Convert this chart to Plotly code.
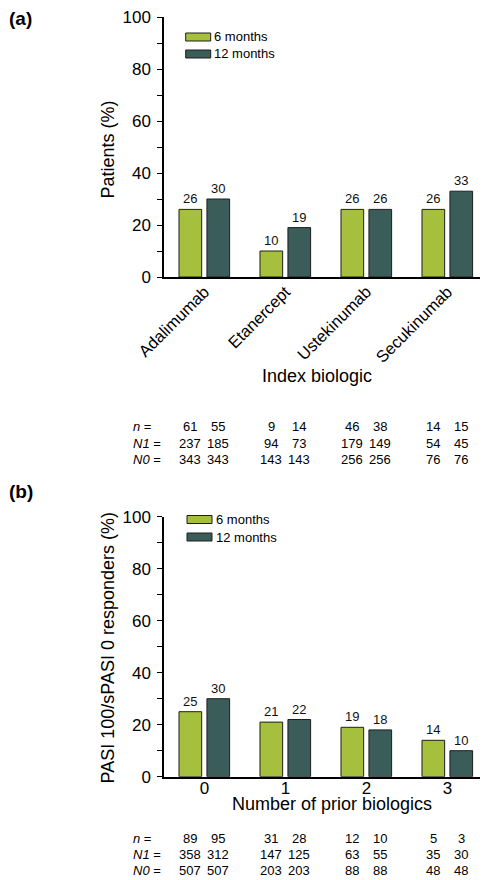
import plotly.graph_objects as go

# ---------------- data ----------------
biologics = ["Adalimumab", "Etanercept", "Ustekinumab", "Secukinumab"]
a_6m = [26, 10, 26, 26]
a_12m = [30, 19, 26, 33]
a_n_6m = [61, 9, 46, 14]
a_n_12m = [55, 14, 38, 15]
a_N1_6m = [237, 94, 179, 54]
a_N1_12m = [185, 73, 149, 45]
a_N0_6m = [343, 143, 256, 76]
a_N0_12m = [343, 143, 256, 76]

prior = ["0", "1", "2", "3"]
b_6m = [25, 21, 19, 14]
b_12m = [30, 22, 18, 10]
b_n_6m = [89, 31, 12, 5]
b_n_12m = [95, 28, 10, 3]
b_N1_6m = [358, 147, 63, 35]
b_N1_12m = [312, 125, 55, 30]
b_N0_6m = [507, 203, 88, 48]
b_N0_12m = [507, 203, 88, 48]

series_names = ["6 months", "12 months"]
y_tickvals = list(range(0, 101, 10))
y_ticktext = [str(v) if v % 20 == 0 else "" for v in y_tickvals]

# ---------------- style ----------------
# page body has an 8px margin; figure is sized to fill the rest of the window
OFF = 8
W, H = 488 - OFF, 880 - OFF
GREEN = "#a6bf3c"
DARK = "#3a5d5a"
EDGE = "#1e1e1e"
FONT = "Liberation Sans, Arial, sans-serif"


def px_x(x):
    return (x - OFF) / W


def px_y(y):
    return 1 - (y - OFF) / H


fig = go.Figure()

BAR_W = 0.28
OFF_G = -0.315
OFF_D = 0.03

for cats, v6, v12, xa, ya in [
    (biologics, a_6m, a_12m, "x", "y"),
    (prior, b_6m, b_12m, "x2", "y2"),
]:
    for vals, col, off, name in [(v6, GREEN, OFF_G, series_names[0]),
                                 (v12, DARK, OFF_D, series_names[1])]:
        fig.add_trace(go.Bar(
            x=cats, y=vals, name=name, xaxis=xa, yaxis=ya,
            width=BAR_W, offset=off,
            marker=dict(color=col, line=dict(color=EDGE, width=1)),
            text=[str(v) for v in vals], texttemplate="%{text}",
            textposition="outside",
            textfont=dict(size=13, color="#111", family=FONT),
            cliponaxis=False, showlegend=False, hoverinfo="x+y",
        ))

x_dom = [px_x(164), 1.0]
axis_common = dict(showline=True, linecolor="black", linewidth=1.5,
                   showgrid=False, zeroline=False, fixedrange=True,
                   automargin=False, ticklabeloverflow="allow")
y_common = dict(axis_common, range=[0, 100], tickmode="array",
                tickvals=y_tickvals, ticktext=y_ticktext, ticks="outside",
                ticklen=5, tickwidth=1, tickcolor="black",
                ticklabelstandoff=3,
                tickfont=dict(size=17, color="black", family=FONT))

fig.update_layout(
    template="none",
    width=W, height=H,
    margin=dict(l=0, r=0, t=0, b=0, pad=0),
    paper_bgcolor="white", plot_bgcolor="white",
    font=dict(family=FONT, color="black"),
    barmode="overlay",
    xaxis=dict(axis_common, domain=x_dom, anchor="y", type="category",
               range=[-0.5, 3.5], ticks="", tickangle=-45,
               ticklabelstandoff=-3,
               tickfont=dict(size=16.5, color="black", family=FONT)),
    yaxis=dict(y_common, domain=[px_y(277), px_y(17)], anchor="x"),
    xaxis2=dict(axis_common, domain=x_dom, anchor="y2", type="category",
                range=[-0.5, 3.5], ticks="", ticklabelstandoff=-5,
                tickfont=dict(size=17, color="black", family=FONT)),
    yaxis2=dict(y_common, domain=[px_y(776.7), px_y(516.7)], anchor="x2"),
)

ann = []
shapes = []


def txt(x, y, s, size, xanchor="center", angle=0, xref="paper"):
    ann.append(dict(x=x, y=px_y(y), xref=xref, yref="paper", text=s,
                    showarrow=False, xanchor=xanchor, yanchor="middle",
                    textangle=angle,
                    font=dict(size=size, color="black", family=FONT)))


# panel labels
txt(px_x(7), 19, "<b>(a)</b>", 19, xanchor="left")
txt(px_x(7), 491, "<b>(b)</b>", 19, xanchor="left")

# axis titles
txt(px_x(107), 149.5, "Patients (%)", 18, angle=-90)
txt(px_x(107), 648.5, "PASI 100/sPASI 0 responders (%)", 18, angle=-90)
txt(px_x(317), 376, "Index biologic", 18)
txt(px_x(332), 804, "Number of prior biologics", 18)

# legends
for (sx, y1, y2) in [(185.7, 37, 54), (187, 519.5, 537)]:
    for yy, col, name in [(y1, GREEN, series_names[0]), (y2, DARK, series_names[1])]:
        shapes.append(dict(type="rect", xref="paper", yref="paper",
                           x0=px_x(sx), x1=px_x(sx + 25),
                           y0=px_y(yy - 4), y1=px_y(yy + 4),
                           fillcolor=col, line=dict(color=EDGE, width=1)))
        txt(px_x(sx + 26.5), yy, name, 13, xanchor="left")

# tables
col_g = OFF_G + BAR_W / 2
col_d = OFF_D + BAR_W / 2
tables = [
    (["<i>n</i> =", "<i>N1</i> =", "<i>N0</i> ="], [427, 443, 459], "x",
     [(a_n_6m, a_n_12m), (a_N1_6m, a_N1_12m), (a_N0_6m, a_N0_12m)]),
    (["<i>n</i> =", "<i>N1</i> =", "<i>N0</i> ="], [838, 854, 870], "x2",
     [(b_n_6m, b_n_12m), (b_N1_6m, b_N1_12m), (b_N0_6m, b_N0_12m)]),
]
for labels, ys, xr, rows in tables:
    for lab, yy, (r6, r12) in zip(labels, ys, rows):
        txt(px_x(131), yy, lab, 13, xanchor="left")
        for i in range(4):
            txt(i + col_g, yy, str(r6[i]), 13, xref=xr)
            txt(i + col_d, yy, str(r12[i]), 13, xref=xr)

fig.update_layout(annotations=ann, shapes=shapes)

fig.write_html("out.html")
